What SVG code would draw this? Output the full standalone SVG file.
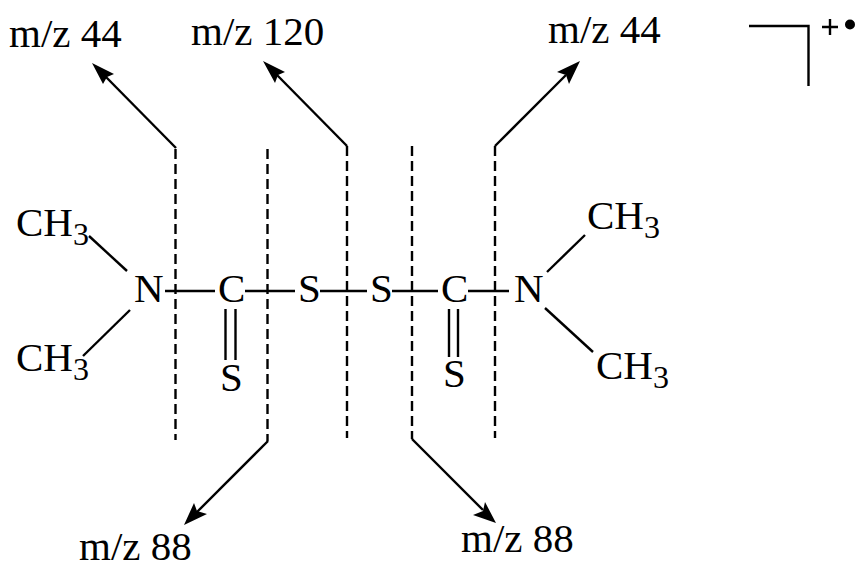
<svg xmlns="http://www.w3.org/2000/svg" width="861" height="581" viewBox="0 0 861 581">
<style>
text{font-family:"Liberation Serif","Times New Roman",serif;font-size:41px;fill:#000}
.s{font-size:32px}
.c line,.c path{stroke:#000;stroke-width:2.4;fill:none}
.c .d{stroke-dasharray:10 5}
.c .a{fill:#000;stroke:none}
</style>
<rect width="861" height="581" fill="#fff"/>
<g id="connectors" class="c">
<line class="d" x1="175.500" y1="149" x2="175.500" y2="440"/>
<line class="d" x1="267.500" y1="149" x2="267.500" y2="441"/>
<line class="d" x1="347" y1="146" x2="347" y2="438"/>
<line class="d" x1="412" y1="146" x2="412" y2="439"/>
<line class="d" x1="495" y1="146" x2="495" y2="438"/>
<line x1="176" y1="148" x2="106" y2="77"/>
<path class="a" d="M92 63L114 74L107 77L103 84Z"/>
<line x1="347" y1="146" x2="277" y2="75"/>
<path class="a" d="M263 61L285 72L278 75L275 83Z"/>
<line x1="495" y1="146" x2="566" y2="75"/>
<path class="a" d="M580 61L569 84L566 75L557 72Z"/>
<line x1="268" y1="441" x2="197" y2="512"/>
<path class="a" d="M184 525L194 503L197 511L207 514Z"/>
<line x1="412" y1="439" x2="483" y2="510"/>
<path class="a" d="M496 523L473 515L483 511L485 502Z"/>
<line x1="89" y1="236" x2="127" y2="271"/>
<line x1="130" y1="310" x2="83" y2="356"/>
<line x1="165" y1="291" x2="215" y2="291"/>
<line x1="245" y1="291" x2="295" y2="291"/>
<line x1="320" y1="291" x2="367" y2="291"/>
<line x1="392" y1="291" x2="438" y2="291"/>
<line x1="468" y1="291" x2="509" y2="291"/>
<line x1="225.500" y1="309" x2="225.500" y2="360"/>
<line x1="235.500" y1="309" x2="235.500" y2="360"/>
<line x1="449" y1="309" x2="449" y2="357"/>
<line x1="458" y1="309" x2="458" y2="357"/>
<line x1="547" y1="272" x2="585" y2="235"/>
<line x1="545" y1="308" x2="593" y2="352"/>
<path d="M749 26H808.500V86"/>
<path d="M822 27H838M830 19V35"/>
<circle class="a" cx="850" cy="24.500" r="5"/>
</g>
<g id="label-44a"><text x="9" y="47">m/z 44</text></g>
<g id="label-120"><text x="191" y="45">m/z 120</text></g>
<g id="label-44b"><text x="548" y="43">m/z 44</text></g>
<g id="label-88a"><text x="79" y="560">m/z 88</text></g>
<g id="label-88b"><text x="461" y="552">m/z 88</text></g>
<g id="ch3-1"><text x="16" y="236">CH<tspan class="s" dy="9">3</tspan></text></g>
<g id="ch3-2"><text x="16" y="371">CH<tspan class="s" dy="9">3</tspan></text></g>
<g id="ch3-3"><text x="587" y="229">CH<tspan class="s" dy="9">3</tspan></text></g>
<g id="ch3-4"><text x="596" y="379">CH<tspan class="s" dy="9">3</tspan></text></g>
<g id="n1"><text x="134" y="302">N</text></g>
<g id="c1"><text x="218" y="302">C</text></g>
<g id="s1"><text x="298" y="302">S</text></g>
<g id="s2"><text x="370" y="302">S</text></g>
<g id="c2"><text x="441" y="302">C</text></g>
<g id="n2"><text x="514" y="302">N</text></g>
<g id="s3"><text x="220" y="391">S</text></g>
<g id="s4"><text x="443" y="387">S</text></g>
</svg>
